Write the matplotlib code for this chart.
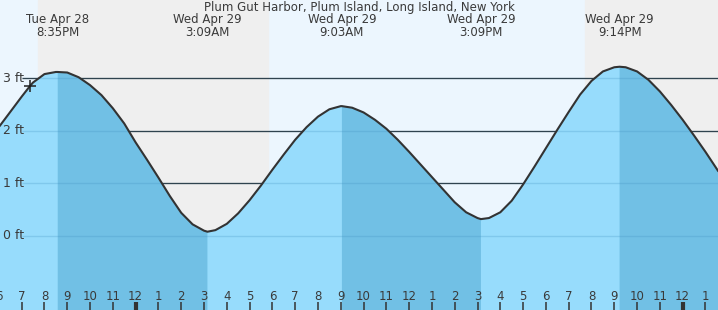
import matplotlib
matplotlib.use("Agg")
import matplotlib.pyplot as plt
import numpy as np

# hours counted from Tue Apr 28 00:00
title = "Plum Gut Harbor, Plum Island, Long Island, New York"

# tide level every half hour (ft)
hours = [18.05, 18.5, 19, 19.36, 19.5, 20, 20.5, 20.583, 21, 21.5, 22, 22.5, 23, 23.5,
         24, 24.5, 25, 25.5, 26, 26.5, 27, 27.15, 27.5, 28, 28.5, 29, 29.5, 30, 30.5,
         31, 31.5, 32, 32.5, 33, 33.05, 33.5, 34, 34.5, 35, 35.5, 36, 36.5, 37, 37.5,
         38, 38.5, 39, 39.15, 39.5, 40, 40.5, 41, 41.5, 42, 42.5, 43, 43.5, 44, 44.5,
         45, 45.233, 45.5, 46, 46.5, 47, 47.5, 48, 48.5, 49, 49.55]
level = [2.10, 2.36, 2.65, 2.85, 2.92, 3.08, 3.12, 3.12, 3.11, 3.02, 2.87, 2.68, 2.43, 2.14,
         1.78, 1.45, 1.11, 0.76, 0.44, 0.22, 0.10, 0.08, 0.11, 0.23, 0.43, 0.68, 0.96,
         1.26, 1.55, 1.83, 2.07, 2.27, 2.41, 2.47, 2.47, 2.44, 2.35, 2.21, 2.04, 1.83,
         1.60, 1.36, 1.12, 0.88, 0.64, 0.45, 0.34, 0.32, 0.34, 0.45, 0.67, 0.98, 1.32,
         1.67, 2.02, 2.36, 2.69, 2.95, 3.13, 3.21, 3.22, 3.21, 3.13, 2.97, 2.75, 2.49,
         2.21, 1.91, 1.60, 1.24]

# high / low tide events
event_time = [20.583, 27.15, 33.05, 39.15, 45.233]
event_day = ["Tue Apr 28", "Wed Apr 29", "Wed Apr 29", "Wed Apr 29", "Wed Apr 29"]
event_clock = ["8:35PM", "3:09AM", "9:03AM", "3:09PM", "9:14PM"]

# night periods (sunset -> sunrise)
night_start = [19.71, 43.71]
night_end = [29.80, 49.55]

# current time marker
now_time = 19.36
now_level = 2.85

grid_levels = [0, 1, 2, 3]
x_min, x_max = 18.05, 49.55
y_min, y_max = -1.41, 4.49

text_col = "#3a3a3a"
fs = 8.5

fig = plt.figure(figsize=(7.18, 3.10), dpi=100)
ax = fig.add_axes([0, 0, 1, 1])
ax.set_xlim(x_min, x_max)
ax.set_ylim(y_min, y_max)
ax.axis("off")

# day / night background
ax.axvspan(x_min, x_max, color="#ecf6fe", zorder=0)
for s, e in zip(night_start, night_end):
    ax.axvspan(s, e, color="#efefef", zorder=0.5)

# grid lines (start a bit right of the labels)
gx0 = x_min + 22 / 718 * (x_max - x_min)
for g in grid_levels:
    ax.hlines(g, gx0, x_max, color="#2a2a2a", lw=0.9, zorder=1)
    ax.text(3 / 718, g, f"{g} ft", transform=ax.get_yaxis_transform(),
            ha="left", va="center", fontsize=fs + 0.5, color=text_col, zorder=5)

t = np.array(hours)
h = np.array(level)

# rising tide light, falling tide darker
ax.fill_between(t, y_min, h, color="#97dcfc", lw=0, zorder=2)
falling = np.zeros_like(t, dtype=bool)
for i in range(0, len(event_time) - 1, 2):
    falling |= (t >= event_time[i]) & (t <= event_time[i + 1])
falling |= t >= event_time[-1]
ax.fill_between(t, y_min, h, where=falling, color="#71c0e5", lw=0, zorder=2.1)

# grid lines seen through the water
for g in grid_levels:
    ax.hlines(g, gx0, x_max, color="#3f8fc0", lw=1.0, alpha=0.25, zorder=2.5)

ax.plot(t, h, color="#333333", lw=1.5, zorder=3, solid_joinstyle="round")
ax.plot(now_time, now_level, marker="+", color="#222222", ms=9, mew=1.1, zorder=4)

# titles and event labels
ax.text(0.5, 1 - 8 / 310, title, transform=ax.transAxes, ha="center", va="center",
        fontsize=fs, color=text_col)
for et, d, c in zip(event_time, event_day, event_clock):
    ax.text(et, 1 - 20 / 310, d, transform=ax.get_xaxis_transform(), ha="center",
            va="center", fontsize=fs, color=text_col)
    ax.text(et, 1 - 32 / 310, c, transform=ax.get_xaxis_transform(), ha="center",
            va="center", fontsize=fs, color=text_col)

# hour ticks along the bottom
xt = ax.get_xaxis_transform()
for hr in range(18, 50):
    lab = (hr - 1) % 12 + 1
    ax.text(hr, 1 - 296 / 310, str(lab), transform=xt, ha="center", va="center",
            fontsize=fs, color=text_col, zorder=5)
    wide = hr % 24 == 0
    ax.vlines(hr, 0, 8 / 310, transform=xt, color="#333333", lw=3 if wide else 1.1, zorder=5)

fig.savefig("out.png", dpi=100)
